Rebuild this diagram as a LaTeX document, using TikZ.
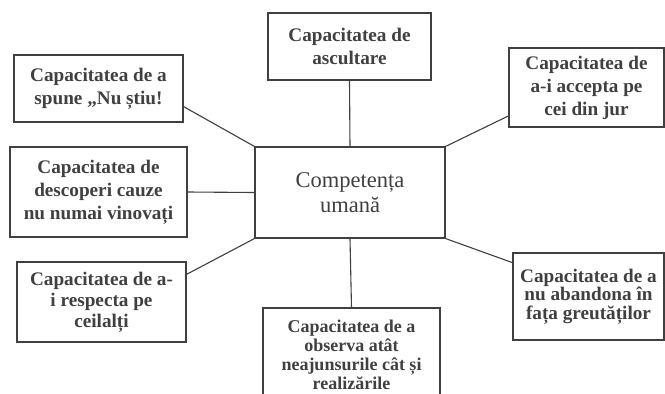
\documentclass[tikz,border=0pt]{standalone}
\usepackage{fontspec}
\setmainfont{Liberation Serif}
\begin{document}
\begin{tikzpicture}[x=1pt, y=-1pt,
        box/.style = {draw, rectangle, align=center, inner sep=0pt,
            font=\bfseries\fontsize{19.2}{23}\selectfont}]
        \fill[white] (0, 0) rectangle (665, 394);
        \useasboundingbox (0, 0) rectangle (665, 394);
        \draw[black!75, line width=1.1pt]
            (350, 192.5) node (c) [draw, rectangle, align=center, minimum width=190pt, minimum height=91pt,
                font=\fontsize{22.5}{25}\selectfont] {Competența\\ umană}
            (349.5, 46.5) node (t)  [box, minimum width=163pt, minimum height=67pt] {Capacitatea de\\ ascultare}
            (98.5, 88.5)  node (tl) [box, minimum width=169pt, minimum height=67pt] {Capacitatea de a\\ spune „Nu știu!}
            (586.5, 87.5) node (tr) [box, minimum width=155pt, minimum height=79pt] {Capacitatea de\\ a-i accepta pe\\ cei din jur}
            (98.5, 192)   node (ml) [box, minimum width=177pt, minimum height=90pt] {Capacitatea de\\ descoperi cauze\\ nu numai vinovați}
            (101.5, 302)  node (bl) [box, minimum width=169pt, minimum height=80pt,
                font=\bfseries\fontsize{19.2}{21}\selectfont] {Capacitatea de a-\\ i respecta pe\\ ceilalți}
            (351.5, 355)  node (b)  [box, minimum width=177pt, minimum height=94pt,
                font=\bfseries\fontsize{18}{19}\selectfont] {Capacitatea de a\\ observa atât\\ neajunsurile cât și\\ realizările}
            (588.5, 296.5) node (br) [box, minimum width=151pt, minimum height=87pt,
                font=\bfseries\fontsize{19.2}{18.5}\selectfont] {Capacitatea de a\\ nu abandona în\\ fața greutăților}

            (t.south)  -- (c.north)
            (tl.-12.4) -- (c.north west)
            (tr.200)   -- (c.north east)
            (ml.east)  -- (c.west)
            (bl.18.9)  -- (c.south west)
            (b.north)  -- (c.south)
            (br.156.1) -- (c.south east);
    \end{tikzpicture}
\end{document}
